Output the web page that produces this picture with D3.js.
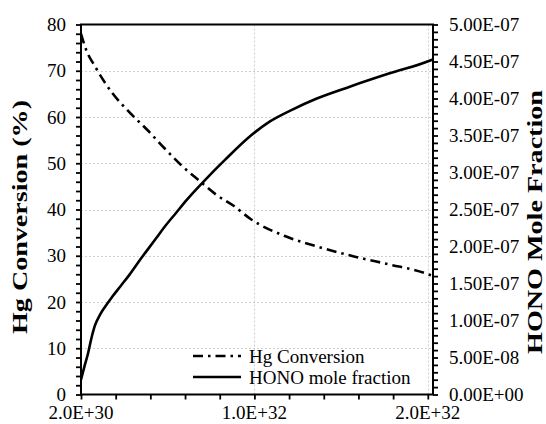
<!DOCTYPE html>
<html>
<head>
<meta charset="utf-8">
<script src="https://cdn.jsdelivr.net/npm/d3@7"></script>
<style>
  html, body { margin: 0; padding: 0; background: #fff; }
  svg { display: block; }
</style>
</head>
<body>
<svg id="chart" width="546" height="424" font-family="'Liberation Serif', 'Times New Roman', Times, serif"></svg>
<script>
// ---- data ----
const hgX = [2e30, 5e30, 1e31, 2e31, 3e31, 4e31, 5e31, 6e31, 7e31, 8e31, 9e31, 1e32, 1.2e32, 1.4e32, 1.6e32, 1.8e32, 2e32, 2.05e32];
const hgConversion = [78, 74.5, 71, 65.2, 61, 57.3, 53.3, 49.5, 46.3, 43.2, 40.8, 37.9, 34.2, 31.8, 29.8, 28.1, 26.3, 25.6];

const honoX = [2e30, 4e30, 6e30, 8e30, 1e31, 1.3e31, 1.6e31, 2e31, 2.5e31, 3e31, 3.7e31, 4.5e31, 5e31, 5.7e31, 6.3e31, 7.2e31, 8.5e31, 1e32, 1.11e32, 1.23e32, 1.38e32, 1.57e32, 1.8e32, 2.03e32, 2.05e32];
const honoFraction = [0.2e-7, 0.38e-7, 0.55e-7, 0.76e-7, 0.93e-7, 1.08e-7, 1.19e-7, 1.32e-7, 1.47e-7, 1.62e-7, 1.85e-7, 2.1e-7, 2.26e-7, 2.46e-7, 2.63e-7, 2.86e-7, 3.17e-7, 3.5e-7, 3.69e-7, 3.84e-7, 4.0e-7, 4.16e-7, 4.34e-7, 4.51e-7, 4.53e-7];

const xTickValues = [2e30, 1.02e32, 2.02e32];
const xTickLabels = ["2.0E+30", "1.0E+32", "2.0E+32"];
const leftTickValues = [0, 10, 20, 30, 40, 50, 60, 70, 80];
const leftTickLabels = ["0", "10", "20", "30", "40", "50", "60", "70", "80"];
const rightTickValues = [0, 5e-8, 1e-7, 1.5e-7, 2e-7, 2.5e-7, 3e-7, 3.5e-7, 4e-7, 4.5e-7, 5e-7];
const rightTickLabels = ["0.00E+00", "5.00E-08", "1.00E-07", "1.50E-07", "2.00E-07", "2.50E-07", "3.00E-07", "3.50E-07", "4.00E-07", "4.50E-07", "5.00E-07"];

const seriesNames = ["Hg Conversion", "HONO mole fraction"];
const leftTitle = "Hg Conversion (%)";
const rightTitle = "HONO Mole Fraction";

// ---- layout ----
const FONT = "'Liberation Serif', 'Times New Roman', Times, serif";
const L = 81, R = 433, T = 24.5, B = 394.5;
const svg = d3.select("#chart");

const x = d3.scaleLinear().domain([2e30, 2.05e32]).range([L, R]);
const yL = d3.scaleLinear().domain([0, 80]).range([B, T]);
const yR = d3.scaleLinear().domain([0, 5e-7]).range([B, T]);

// gridlines
const grid = svg.append("g").attr("stroke", "#cfcfcf").attr("stroke-width", 1).attr("stroke-dasharray", "2,2");
leftTickValues.filter(v => v > 0 && v < 80).forEach(v => {
  grid.append("line").attr("x1", L).attr("x2", R).attr("y1", Math.round(yL(v)) + 0.5).attr("y2", Math.round(yL(v)) + 0.5);
});
xTickValues.slice(1).forEach(v => {
  grid.append("line").attr("x1", Math.round(x(v)) + 0.5).attr("x2", Math.round(x(v)) + 0.5).attr("y1", T).attr("y2", B);
});

// minor tick values
const xMinor = d3.range(0, 11).map(i => 2e30 + i * 2e31);
const leftMinor = d3.range(0, 81, 2);
const rightMinor = d3.range(0, 51).map(i => i * 1e-8);

// axes
const tickLen = 5;
const axG = svg.append("g");
axG.append("g").attr("transform", `translate(0,${B})`).call(d3.axisBottom(x).tickValues(xMinor).tickSize(tickLen).tickFormat(""));
axG.append("g").attr("transform", `translate(${L},0)`).call(d3.axisLeft(yL).tickValues(leftMinor).tickSize(tickLen).tickFormat(""));
axG.append("g").attr("transform", `translate(${R},0)`).call(d3.axisRight(yR).tickValues(rightMinor).tickSize(tickLen).tickFormat(""));
axG.selectAll(".domain").remove();
axG.selectAll(".tick line").attr("stroke", "#000").attr("stroke-width", 1.8);

// frame
svg.append("rect").attr("x", L).attr("y", T).attr("width", R - L).attr("height", B - T)
  .attr("fill", "none").attr("stroke", "#000").attr("stroke-width", 2);

// tick labels
const fs = 19;
const txt = sel => sel.attr("font-family", FONT).attr("fill", "#000");
svg.append("g").selectAll("text").data(leftTickValues).join("text").call(txt)
  .attr("x", 66).attr("y", d => yL(d)).attr("dy", "0.35em").attr("text-anchor", "end")
  .attr("font-size", fs).text((d, i) => leftTickLabels[i]);
svg.append("g").selectAll("text").data(rightTickValues).join("text").call(txt)
  .attr("x", 449).attr("y", d => yR(d)).attr("dy", "0.35em").attr("text-anchor", "start")
  .attr("font-size", fs).text((d, i) => rightTickLabels[i]);
svg.append("g").selectAll("text").data(xTickValues).join("text").call(txt)
  .attr("x", d => x(d)).attr("y", 419).attr("text-anchor", "middle")
  .attr("font-size", fs).text((d, i) => xTickLabels[i]);

// axis titles
svg.append("text").call(txt).attr("transform", "translate(27,217) rotate(-90)")
  .attr("text-anchor", "middle").attr("font-size", 20).attr("font-weight", "bold")
  .attr("textLength", 234).attr("lengthAdjust", "spacingAndGlyphs").text(leftTitle);
svg.append("text").call(txt).attr("transform", "translate(542,222) rotate(-90)")
  .attr("text-anchor", "middle").attr("font-size", 20).attr("font-weight", "bold")
  .attr("textLength", 264).attr("lengthAdjust", "spacingAndGlyphs").text(rightTitle);

// series
svg.append("clipPath").attr("id", "clip").append("rect")
  .attr("x", L).attr("y", T - 2).attr("width", R - L).attr("height", B - T + 2);
const hgLine = d3.line().x((d, i) => x(hgX[i])).y(d => yL(d)).curve(d3.curveMonotoneX);
const honoLine = d3.line().x((d, i) => x(honoX[i])).y(d => yR(d)).curve(d3.curveMonotoneX);

const dashHg = "10,5,2.5,5";
svg.append("path").attr("clip-path", "url(#clip)").attr("d", hgLine(hgConversion))
  .attr("fill", "none").attr("stroke", "#000").attr("stroke-width", 2.6).attr("stroke-dasharray", dashHg);
svg.append("path").attr("clip-path", "url(#clip)").attr("d", honoLine(honoFraction))
  .attr("fill", "none").attr("stroke", "#000").attr("stroke-width", 2.6);

// legend
const leg = svg.append("g");
const legY = [356, 377];
leg.append("line").attr("x1", 193).attr("x2", 241).attr("y1", legY[0]).attr("y2", legY[0])
  .attr("stroke", "#000").attr("stroke-width", 2.6).attr("stroke-dasharray", dashHg);
leg.append("line").attr("x1", 193).attr("x2", 241).attr("y1", legY[1]).attr("y2", legY[1])
  .attr("stroke", "#000").attr("stroke-width", 2.6);
seriesNames.forEach((n, i) => {
  leg.append("text").call(txt).attr("x", 249).attr("y", legY[i]).attr("dy", "0.35em")
    .attr("font-size", fs).text(n);
});
</script>
</body>
</html>
